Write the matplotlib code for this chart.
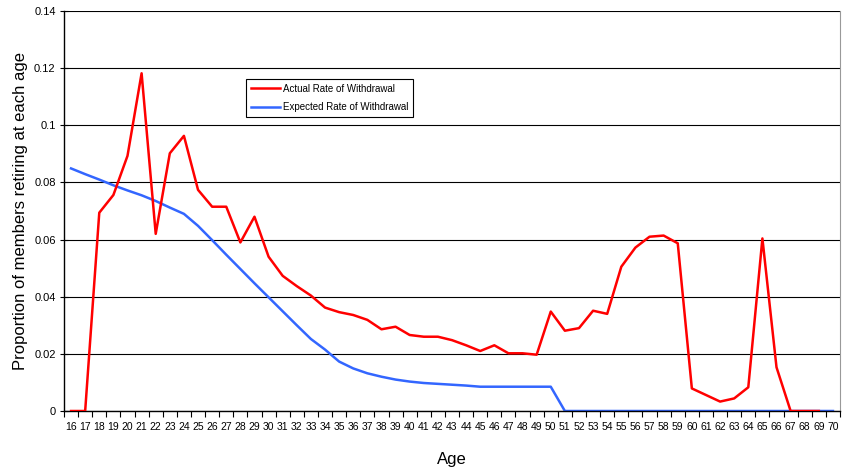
import matplotlib
matplotlib.use("Agg")
import matplotlib.pyplot as plt
import numpy as np
from matplotlib import font_manager

names = {f.name for f in font_manager.fontManager.ttflist}
FAM = "Liberation Sans Narrow" if "Liberation Sans Narrow" in names else "Liberation Sans"
plt.rcParams["font.family"] = [FAM, "DejaVu Sans"]

ages = list(range(16, 71))
actual = [0, 0, 0.0694, 0.0756, 0.0893, 0.1182, 0.062, 0.0902, 0.0963, 0.0774,
          0.0715, 0.0715, 0.059, 0.068, 0.054, 0.0473, 0.0437, 0.0404, 0.0362, 0.0346,
          0.0336, 0.0319, 0.0286, 0.0295, 0.0266, 0.026, 0.026, 0.0248, 0.023, 0.021,
          0.023, 0.0202, 0.0202, 0.0197, 0.0348, 0.0281, 0.029, 0.0351, 0.034, 0.0505,
          0.0572, 0.061, 0.0614, 0.0587, 0.0079, 0.0056, 0.0033, 0.0044, 0.0083, 0.0604,
          0.0153, 0, 0, 0, np.nan]
expected = [0.0849, 0.0829, 0.081, 0.079, 0.0772, 0.0755, 0.0735, 0.0712, 0.069, 0.0648,
            0.0598, 0.0547, 0.0497, 0.0447, 0.0398, 0.0349, 0.030, 0.0252, 0.0215, 0.0173,
            0.0149, 0.0132, 0.012, 0.011, 0.0103, 0.0098, 0.0095, 0.0092, 0.0089, 0.0085,
            0.0085, 0.0085, 0.0085, 0.0085, 0.0085, 0, 0, 0, 0, 0,
            0, 0, 0, 0, 0, 0, 0, 0, 0, 0,
            0, 0, 0, 0, 0]

W, H = 849, 473
fig = plt.figure(figsize=(W / 100, H / 100), dpi=100)
ax = fig.add_axes([64 / W, 1 - 411 / H, 776 / W, 400 / H])

x = np.arange(len(ages))
ax.plot(x, actual, color="#ff0000", lw=1.8, label="Actual Rate of Withdrawal", zorder=3)
ax.plot(x, expected, color="#3366ff", lw=1.8, label="Expected Rate of Withdrawal", zorder=2)

ax.set_xlim(-0.5, len(ages) - 0.5)
ax.set_ylim(0, 0.14)
ax.set_yticks(np.arange(0, 0.141, 0.02))
ax.set_yticklabels(["0", "0.02", "0.04", "0.06", "0.08", "0.1", "0.12", "0.14"], fontsize=8)
ax.yaxis.grid(True, color="black", lw=0.8)
ax.set_axisbelow(True)

ax.set_xticks(x)
ax.set_xticklabels([str(a) for a in ages], fontsize=7.5)
ax.set_xticks(np.arange(-0.5, len(ages), 1), minor=True)
ax.tick_params(axis="x", which="major", length=0, pad=8)
ax.tick_params(axis="x", which="minor", length=4, direction="out", width=0.8)
ax.tick_params(axis="y", length=6, direction="inout", width=0.8, pad=3)

for s in ["left", "bottom"]:
    ax.spines[s].set_color("black")
    ax.spines[s].set_linewidth(1.0)
ax.spines["top"].set_visible(False)
ax.spines["right"].set_color("#999999")
ax.spines["right"].set_linewidth(0.8)

ax.set_xlabel("Age", fontsize=12, labelpad=14)
ax.set_ylabel("Proportion of members retiring at each age", fontsize=12, labelpad=4)

leg = ax.legend(loc="upper left", bbox_to_anchor=(0.228, 0.843), fontsize=7,
                frameon=True, fancybox=False, edgecolor="black", framealpha=1,
                handlelength=3, borderpad=0.5, labelspacing=0.9, handletextpad=0.3)
leg.get_frame().set_linewidth(0.8)

fig.savefig("out.png", dpi=100, facecolor="white")
